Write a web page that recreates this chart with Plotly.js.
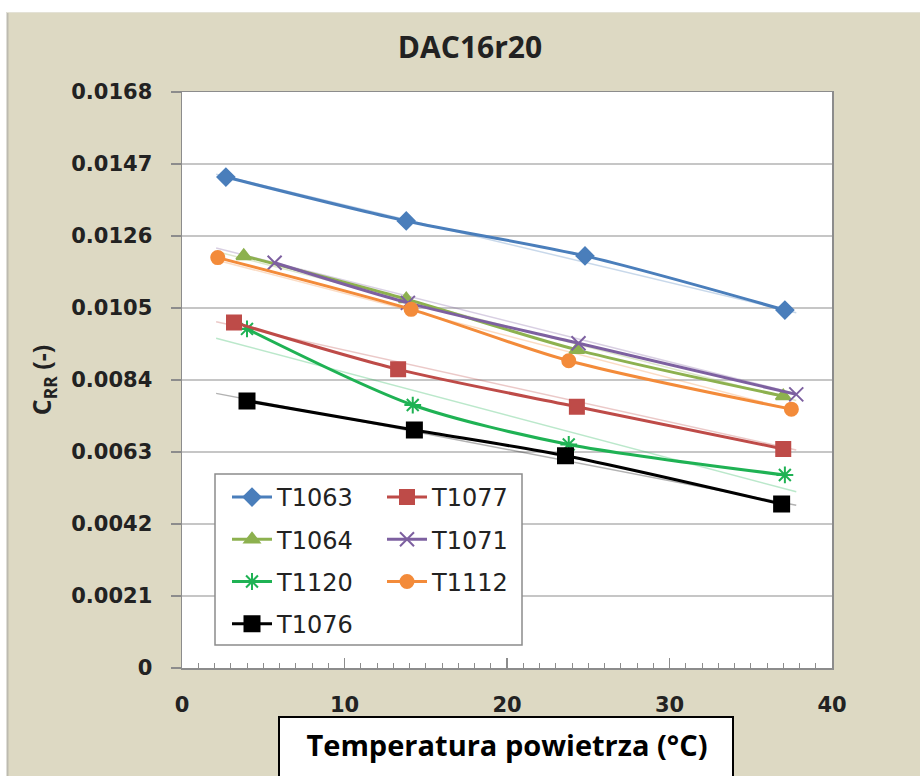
<!DOCTYPE html>
<html>
<head>
<meta charset="utf-8">
<script src="https://cdn.plot.ly/plotly-3.0.1.min.js"></script>
<style>html,body{margin:0;padding:0;background:#fff;}#chart{width:920px;height:776px;}</style>
</head>
<body>
<div id="chart"></div>
<script>
// ---- data ----
const chartTitle = 'DAC16r20';
const xTitle = 'Temperatura powietrza (°C)';
const yTitle = 'C<sub>RR</sub> (-)';
const yTickVals = [0, 0.0021, 0.0042, 0.0063, 0.0084, 0.0105, 0.0126, 0.0147, 0.0168];
const yTickText = ['0', '0.0021', '0.0042', '0.0063', '0.0084', '0.0105', '0.0126', '0.0147', '0.0168'];
const xTickVals = [0, 10, 20, 30, 40];

const t1063_x = [2.7, 13.8, 24.8, 37.1];
const t1063_y = [0.01432, 0.01304, 0.01202, 0.01044];
const t1077_x = [3.2, 13.3, 24.3, 37.0];
const t1077_y = [0.01008, 0.00871, 0.00762, 0.00639];
const t1064_x = [3.8, 13.8, 24.3, 37.0];
const t1064_y = [0.01202, 0.01076, 0.00928, 0.00793];
const t1071_x = [5.7, 13.9, 24.4, 37.8];
const t1071_y = [0.01182, 0.01065, 0.00947, 0.00798];
const t1120_x = [4.0, 14.2, 23.8, 37.1];
const t1120_y = [0.00989, 0.00767, 0.00652, 0.00563];
const t1112_x = [2.2, 14.1, 23.8, 37.5];
const t1112_y = [0.01197, 0.01046, 0.00896, 0.00755];
const t1076_x = [4.0, 14.3, 23.6, 36.9];
const t1076_y = [0.00779, 0.00694, 0.00619, 0.00478];

// faint linear trend lines (end points)
const trend_x = [2.1, 37.8];
const trend_t1063 = [0.01440, 0.01036];
const trend_t1077 = [0.01010, 0.00636];
const trend_t1064 = [0.01215, 0.00780];
const trend_t1071 = [0.01225, 0.00800];
const trend_t1120 = [0.00962, 0.00514];
const trend_t1112 = [0.01190, 0.00750];
const trend_t1076 = [0.00801, 0.00475];

// ---- styles ----
const series = [
  {name:'T1063', x:t1063_x, y:t1063_y, tr:trend_t1063, color:'#4A7EBB', sym:'diamond', size:13, legend:'legend'},
  {name:'T1064', x:t1064_x, y:t1064_y, tr:trend_t1064, color:'#8DB14F', sym:'triangle-up', size:13, legend:'legend'},
  {name:'T1120', x:t1120_x, y:t1120_y, tr:trend_t1120, color:'#1FB254', sym:'asterisk-open', size:14, legend:'legend'},
  {name:'T1076', x:t1076_x, y:t1076_y, tr:trend_t1076, color:'#000000', sym:'square', size:15, legend:'legend'},
  {name:'T1077', x:t1077_x, y:t1077_y, tr:trend_t1077, color:'#BE4B48', sym:'square', size:14, legend:'legend2'},
  {name:'T1071', x:t1071_x, y:t1071_y, tr:trend_t1071, color:'#7D60A0', sym:'x-thin-open', size:14, legend:'legend2'},
  {name:'T1112', x:t1112_x, y:t1112_y, tr:trend_t1112, color:'#F38B3A', sym:'circle', size:13, legend:'legend2'}
];

const traces = [];
series.forEach(s => {
  traces.push({
    type:'scatter', mode:'lines', x:trend_x, y:s.tr, showlegend:false, hoverinfo:'skip',
    line:{color:s.color, width:1.5}, opacity:0.3
  });
});
series.forEach(s => {
  traces.push({
    type:'scatter', mode:'lines+markers', name:s.name, x:s.x, y:s.y,
    legend:s.legend, legendgroup:s.name,
    line:{color:s.color, width:3, shape:'spline', smoothing:0.8},
    marker:{symbol:s.sym, size:s.size, color:s.color, line:{color:s.color, width:2}}
  });
});

const L = 182, R = 88, T = 92, B = 108;
const W = 920 - L - R, H = 776 - T - B;
const px = v => (v - L) / W;           // pixel x -> paper
const py = v => (776 - B - v) / H;     // pixel y -> paper

const tickFont = {family:'DejaVu Sans, sans-serif', size:21, color:'#222222', weight:'bold'};
const legendFont = {family:'DejaVu Sans, sans-serif', size:24, color:'#222222'};

const layout = {
  width:920, height:776,
  margin:{l:L, r:R, t:T, b:B, pad:0},
  paper_bgcolor:'#DDD9C3',
  plot_bgcolor:'#ffffff',
  title:{text:'<b>' + chartTitle + '</b>', font:{family:'Open Sans, sans-serif', size:30, color:'#222222'},
         x:470/920, xref:'container', xanchor:'center', y:1-47/776, yref:'container', yanchor:'middle'},
  xaxis:{
    range:[0, 40], tickvals:xTickVals, ticktext:xTickVals.map(String),
    showgrid:false, zeroline:false, showline:true, linecolor:'#8c8c8c', linewidth:1.5, mirror:true,
    ticks:'inside', ticklen:10, tickcolor:'#8c8c8c', tickwidth:1.5,
    minor:{dtick:1, ticks:'inside', ticklen:5, tickcolor:'#8c8c8c', tickwidth:1},
    tickfont:tickFont, ticklabelstandoff:17,
    title:{text:'<b>' + xTitle + '</b>', font:{family:'Open Sans, sans-serif', size:29, color:'#000000'}, standoff:20},
    automargin:false, fixedrange:true
  },
  yaxis:{
    range:[0, 0.0168], tickvals:yTickVals, ticktext:yTickText,
    showgrid:true, gridcolor:'#c6c6c6', gridwidth:2, zeroline:false,
    showline:true, linecolor:'#8c8c8c', linewidth:1.5, mirror:true,
    ticks:'outside', ticklen:10, tickcolor:'#8c8c8c', tickwidth:1.5,
    tickfont:tickFont, ticklabelstandoff:14,
    title:{text:'<b>' + yTitle + '</b>', font:{family:'Open Sans, sans-serif', size:25, color:'#222222'}, standoff:12},
    automargin:false, fixedrange:true
  },
  legend:{
    x:px(227), y:py(475), xanchor:'left', yanchor:'top', orientation:'v',
    bgcolor:'rgba(0,0,0,0)', borderwidth:0, font:legendFont, itemwidth:40, tracegroupgap:8
  },
  legend2:{
    x:px(382), y:py(475), xanchor:'left', yanchor:'top', orientation:'v',
    bgcolor:'rgba(0,0,0,0)', borderwidth:0, font:legendFont, itemwidth:40, tracegroupgap:8
  },
  shapes:[
    // white strips outside the tan panel
    {type:'rect', xref:'paper', yref:'paper', x0:px(0), x1:px(920), y0:py(12), y1:py(0), fillcolor:'#ffffff', line:{width:0}, layer:'below'},
    {type:'rect', xref:'paper', yref:'paper', x0:px(0), x1:px(7), y0:py(776), y1:py(0), fillcolor:'#ffffff', line:{width:0}, layer:'below'},
    {type:'line', xref:'paper', yref:'paper', x0:px(7.5), x1:px(7.5), y0:py(776), y1:py(12), line:{color:'#bdbbb0', width:2}, layer:'below'},
    {type:'line', xref:'paper', yref:'paper', x0:px(7), x1:px(920), y0:py(12.5), y1:py(12.5), line:{color:'#e4e2d6', width:1}, layer:'below'},
    // legend box
    {type:'rect', xref:'paper', yref:'paper', x0:px(215), x1:px(522), y0:py(645), y1:py(474), fillcolor:'#ffffff', line:{color:'#8c8c8c', width:1.5}, layer:'above'},
    // x-axis title box
    {type:'rect', xref:'paper', yref:'paper', x0:px(279), x1:px(733), y0:py(800), y1:py(717), fillcolor:'#ffffff', line:{color:'#000000', width:2}, layer:'below'}
  ]
};

Plotly.newPlot('chart', traces, layout, {displayModeBar:false, staticPlot:true});
</script>
</body>
</html>
